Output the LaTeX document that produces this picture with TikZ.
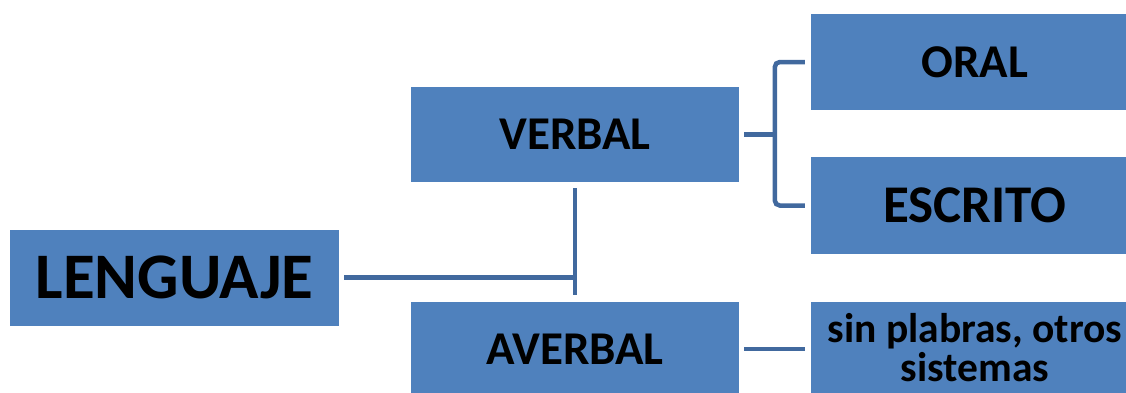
\documentclass[tikz,border=0pt]{standalone}
\usepackage{fontspec}
\setmainfont{Carlito}
\usetikzlibrary{calc}
\definecolor{boxblue}{RGB}{79,129,189}
\definecolor{linkblue}{RGB}{65,105,158}
\tikzset{
  blockbox/.style={fill=boxblue, draw=none, inner sep=0pt, minimum width=328pt, minimum height=95pt, anchor=center, text=black, font=\bfseries},
  conn/.style={draw=linkblue, line width=4.5pt}
}
\begin{document}
\begin{tikzpicture}[x=1pt,y=-1pt]
\useasboundingbox (0,0) rectangle (1126,392);
\clip (0,0) rectangle (1126,392);
\node[blockbox, minimum width=329pt, minimum height=96pt, font=\bfseries\fontsize{65}{70}\selectfont] (L) at (174.5,277.5) {LENGUAJE};
\node[blockbox, font=\bfseries\fontsize{47}{52}\selectfont] (V) at (575,134.5) {VERBAL};
\node[blockbox, font=\bfseries\fontsize{47}{52}\selectfont] (A) at (575,349) {AVERBAL};
\node[blockbox, minimum height=96pt, font=\bfseries\fontsize{47}{52}\selectfont] (O) at (975,62) {ORAL};
\node[blockbox, minimum height=97pt, font=\bfseries\fontsize{53}{58}\selectfont] (E) at (975,205.5) {ESCRITO};
\node[blockbox, align=center, font=\bfseries\fontsize{41.5}{39}\selectfont] (S) at (975,349) {\raisebox{3pt}{sin plabras, otros}\\\raisebox{3pt}{sistemas}};
% LENGUAJE -> junction
\coordinate (j) at (V.south |- L.east);
\draw[conn] ([xshift=5pt]L.east) -- (j);
\draw[conn] ([yshift=-6pt]V.south) -- ([yshift=6pt]A.north);
% VERBAL bracket
\coordinate (vb) at ([xshift=-36pt]O.west |- V.east);
\draw[conn] ([xshift=5pt]V.east) -- (vb);
\draw[conn, rounded corners=5pt] ([xshift=-6pt]O.west) -- ++(-30,0) |- ([xshift=-6pt]E.west);
% AVERBAL -> sin plabras
\draw[conn] ([xshift=5pt]A.east) -- ([xshift=-6pt]S.west);
\end{tikzpicture}
\end{document}
